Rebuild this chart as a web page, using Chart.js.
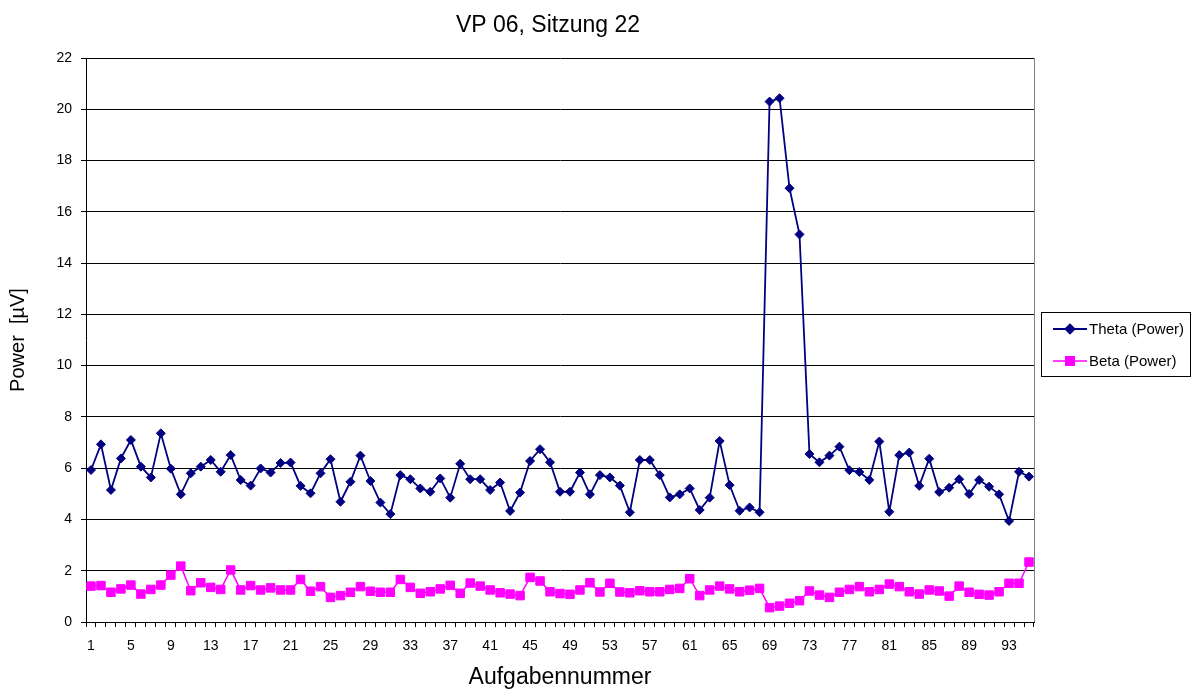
<!DOCTYPE html>
<html>
<head>
<meta charset="utf-8">
<script src="https://cdn.jsdelivr.net/npm/chart.js@4"></script>
<style>
  body { margin: 0; background: #fff; }
</style>
</head>
<body>
<canvas id="myChart" width="1192" height="689"></canvas>
<script>
// Aufgabennummer 1..95
const aufgaben = [];
for (let i = 1; i <= 95; i++) aufgaben.push(String(i));

const thetaPower = [
  5.93, 6.93, 5.15, 6.38, 7.10, 6.06, 5.64, 7.36, 5.98, 4.98,
  5.80, 6.06, 6.32, 5.86, 6.51, 5.54, 5.32, 5.99, 5.83, 6.20,
  6.22, 5.31, 5.02, 5.80, 6.35, 4.69, 5.47, 6.49, 5.50, 4.66,
  4.21, 5.73, 5.57, 5.21, 5.08, 5.60, 4.85, 6.17, 5.57, 5.57,
  5.15, 5.44, 4.33, 5.05, 6.28, 6.74, 6.23, 5.08, 5.08, 5.83,
  4.98, 5.73, 5.64, 5.32, 4.28, 6.32, 6.32, 5.73, 4.86, 4.98,
  5.21, 4.37, 4.85, 7.06, 5.34, 4.34, 4.47, 4.28, 20.30, 20.43,
  16.92, 15.12, 6.55, 6.23, 6.49, 6.84, 5.92, 5.85, 5.54, 7.04,
  4.30, 6.51, 6.61, 5.31, 6.37, 5.07, 5.24, 5.57, 4.99, 5.54,
  5.28, 4.98, 3.94, 5.86, 5.67
];

const betaPower = [
  1.40, 1.42, 1.16, 1.29, 1.44, 1.09, 1.27, 1.44, 1.83, 2.18,
  1.22, 1.53, 1.35, 1.27, 2.03, 1.25, 1.42, 1.25, 1.33, 1.25,
  1.25, 1.66, 1.20, 1.38, 0.96, 1.03, 1.16, 1.38, 1.20, 1.16,
  1.16, 1.66, 1.35, 1.12, 1.18, 1.29, 1.43, 1.12, 1.52, 1.40,
  1.25, 1.14, 1.09, 1.03, 1.74, 1.60, 1.18, 1.11, 1.08, 1.25,
  1.53, 1.17, 1.51, 1.17, 1.14, 1.22, 1.18, 1.18, 1.27, 1.31,
  1.69, 1.03, 1.25, 1.40, 1.29, 1.18, 1.24, 1.31, 0.56, 0.62,
  0.73, 0.83, 1.21, 1.05, 0.96, 1.16, 1.27, 1.38, 1.18, 1.27,
  1.48, 1.38, 1.18, 1.09, 1.25, 1.21, 1.01, 1.40, 1.16, 1.08,
  1.05, 1.18, 1.51, 1.51, 2.34
];

const yMin = 0, yMax = 22, yStep = 2;
const chartTitle = "VP 06, Sitzung 22";
const seriesNames = ["Theta (Power)", "Beta (Power)"];

const FONT = "'Liberation Sans', Arial, sans-serif";
Chart.defaults.font.family = FONT;
Chart.defaults.color = "#000";

// title, plot border and boxed legend like the excel original
const excelBits = {
  id: "excelBits",
  afterDraw(chart) {
    const c = chart.ctx;
    const a = chart.chartArea;
    c.save();
    c.strokeStyle = "#808080";
    c.lineWidth = 1;
    c.beginPath();
    c.moveTo(Math.round(a.right) + 0.5, a.top);
    c.lineTo(Math.round(a.right) + 0.5, a.bottom);
    c.stroke();

    c.fillStyle = "#000";
    c.font = "23px " + FONT;
    c.textAlign = "center";
    c.textBaseline = "middle";
    c.fillText(chartTitle, 548, 26);

    // legend box
    c.strokeStyle = "#000";
    c.strokeRect(1041.5, 312.5, 149, 64);
    c.font = "15px " + FONT;
    c.textAlign = "left";
    chart.data.datasets.forEach((ds, i) => {
      const y = 329 + i * 32;
      c.strokeStyle = ds.borderColor;
      c.lineWidth = ds.borderWidth;
      c.beginPath();
      c.moveTo(1053, y);
      c.lineTo(1087, y);
      c.stroke();
      c.fillStyle = ds.pointBackgroundColor;
      Chart.helpers.drawPoint(c, {pointStyle: ds.pointStyle, radius: ds.pointRadius, borderWidth: 1}, 1070, y);
      c.fill();
      c.fillStyle = "#000";
      c.fillText(ds.label, 1089, y + 1);
    });
    c.restore();
  }
};

const ctx = document.getElementById("myChart").getContext("2d");
new Chart(ctx, {
  type: "line",
  data: {
    labels: aufgaben,
    datasets: [
      {
        label: seriesNames[0],
        data: thetaPower,
        borderColor: "#000080",
        backgroundColor: "#000080",
        pointBackgroundColor: "#000080",
        pointBorderColor: "#000080",
        borderWidth: 1.8,
        pointStyle: "rectRot",
        pointRadius: 4.5,
        pointBorderWidth: 1,
        tension: 0
      },
      {
        label: seriesNames[1],
        data: betaPower,
        borderColor: "#FF00FF",
        backgroundColor: "#FF00FF",
        pointBackgroundColor: "#FF00FF",
        pointBorderColor: "#FF00FF",
        borderWidth: 1.5,
        pointStyle: "rect",
        pointRadius: 6,
        pointBorderWidth: 1,
        tension: 0
      }
    ]
  },
  options: {
    responsive: false,
    animation: false,
    layout: { padding: { left: 6, right: 158, top: 58, bottom: 0 } },
    plugins: {
      legend: { display: false },
      title: { display: false },
      tooltip: { enabled: false }
    },
    scales: {
      x: {
        type: "category",
        offset: true,
        afterFit: s => { s.height = 67; },
        grid: { offset: true, drawOnChartArea: false, drawTicks: true, tickLength: 5, color: "#000" },
        border: { display: true, color: "#000", width: 1 },
        ticks: {
          autoSkip: false,
          maxRotation: 0,
          padding: 11,
          font: { size: 14 },
          callback: function (val, i) { return i % 4 === 0 ? this.getLabelForValue(val) : ""; }
        },
        title: { display: true, text: "Aufgabennummer", font: { size: 23, lineHeight: 1 }, padding: 0 }
      },
      y: {
        min: yMin,
        max: yMax,
        afterFit: s => { s.width = 80; },
        grid: { color: "#000", tickLength: 5, lineWidth: 1 },
        border: { display: true, color: "#000", width: 1 },
        ticks: { stepSize: yStep, padding: 9, font: { size: 14 } },
        title: { display: true, text: "Power  [µV]", font: { size: 20 }, padding: 0 }
      }
    }
  },
  plugins: [excelBits]
});
</script>
</body>
</html>
